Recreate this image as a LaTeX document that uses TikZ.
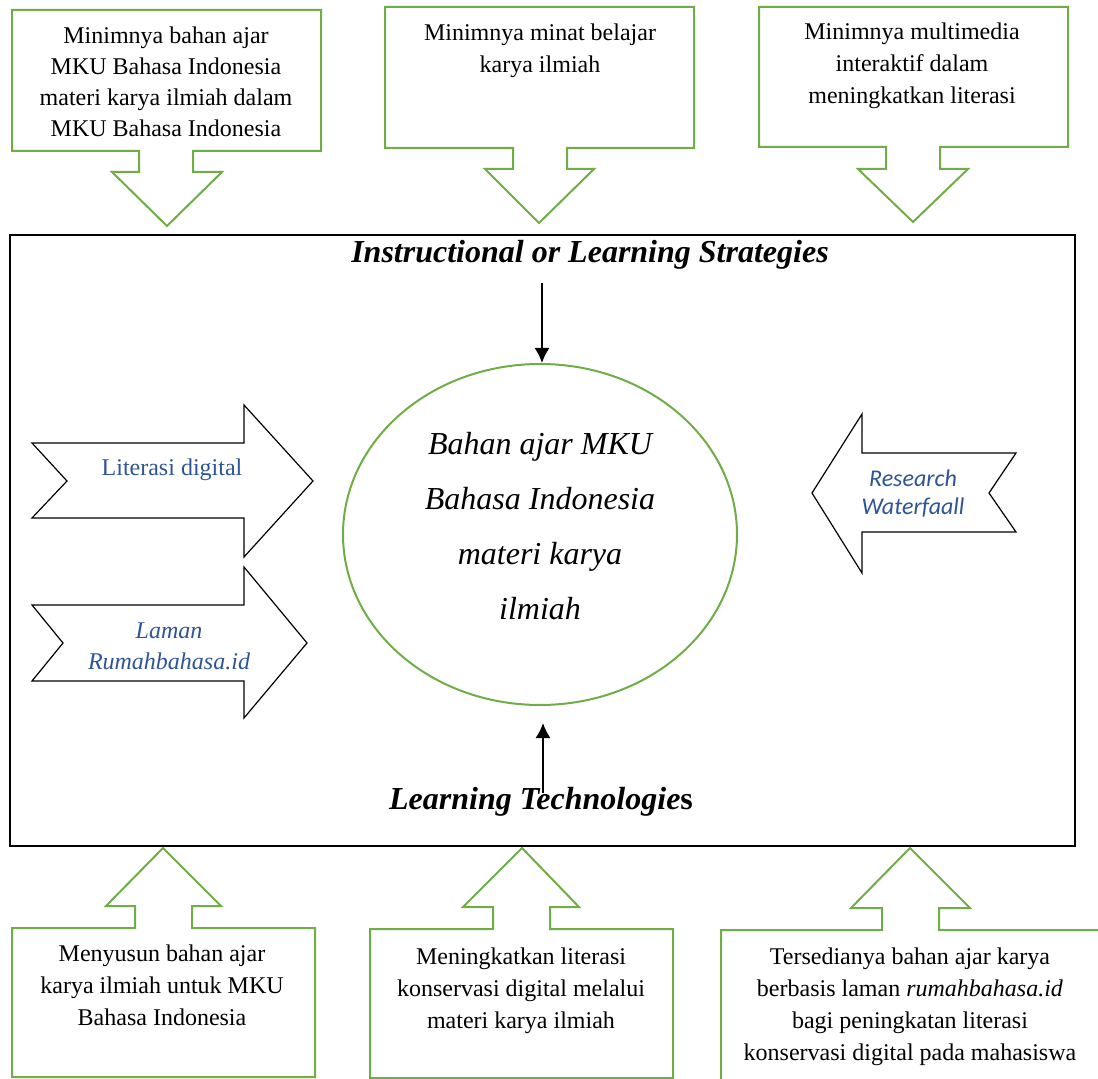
\documentclass[tikz,border=0pt]{standalone}
\usepackage{fontspec}
\setmainfont{Liberation Serif}
\newfontfamily\calibrifont{Carlito}
\usepackage{xcolor}
\usepackage{tikz}
\usetikzlibrary{arrows.meta,shapes.geometric}

\definecolor{leafgreen}{RGB}{112,173,71}
\definecolor{inkblue}{RGB}{47,84,150}

\begin{document}
\begin{tikzpicture}[x=0.5pt,y=-0.5pt,
    callout/.style={draw=leafgreen,line width=1pt,line join=miter},
    bigarrow/.style={draw=black,line width=0.6pt,fill=white},
    boxtext/.style={anchor=base,align=center,inner sep=0pt,font=\fontsize{12}{16}\selectfont},
    arrowtext/.style={anchor=base,align=center,inner sep=0pt,text=inkblue},
    vline/.style={line width=0.8pt,-{Latex[length=7.5pt,width=7.5pt]}}]
            \useasboundingbox (0,0) rectangle (1098,1079);
            % frame
            \draw[line width=1pt] (10,235) rectangle (1075,846);
            % top callouts
            \draw[callout] (12,10) -- (321,10) -- (321,151) -- (193,151) -- (193,172) -- (222,172) -- (167,226) -- (112,172) -- (139,172) -- (139,151) -- (12,151) -- cycle;
            \draw[callout] (385,7) -- (694,7) -- (694,148) -- (567,148) -- (567,169) -- (594,169) -- (539,223) -- (485,169) -- (513,169) -- (513,148) -- (385,148) -- cycle;
            \draw[callout] (759,7) -- (1068,7) -- (1068,147) -- (940,147) -- (940,169) -- (968,169) -- (913,222) -- (858,169) -- (886,169) -- (886,147) -- (759,147) -- cycle;
            \node[boxtext,font=\fontsize{12}{15.5}\selectfont] (kurang1) at (166,137) {Minimnya bahan ajar\\MKU Bahasa Indonesia\\materi karya ilmiah dalam\\MKU Bahasa Indonesia};
            \node[boxtext] (kurang2) at (540,73) {Minimnya minat belajar\\karya ilmiah};
            \node[boxtext] (kurang3) at (912,104) {Minimnya multimedia\\interaktif dalam\\meningkatkan literasi};
            % bottom callouts
            \draw[callout] (12,1077) -- (12,928) -- (135,928) -- (135,906) -- (106,906) -- (163,848) -- (221,906) -- (192,906) -- (192,928) -- (315,928) -- (315,1077) -- cycle;
            \draw[callout] (370,1078) -- (370,929) -- (493,929) -- (493,907) -- (463,907) -- (522,848) -- (579,907) -- (550,907) -- (550,929) -- (673,929) -- (673,1078) -- cycle;
            \draw[callout] (721,1085) -- (721,930) -- (882,930) -- (882,908) -- (851,908) -- (910,848) -- (970,908) -- (939,908) -- (939,930) -- (1105,930);
            \node[boxtext] (hasil1) at (162,1025) {Menyusun bahan ajar\\karya ilmiah untuk MKU\\Bahasa Indonesia};
            \node[boxtext] (hasil2) at (521,1028) {Meningkatkan literasi\\konservasi digital melalui\\materi karya ilmiah};
            \node[boxtext] (hasil3) at (910,1060) {Tersedianya bahan ajar karya\\berbasis laman \textit{rumahbahasa.id}\\bagi peningkatan literasi\\konservasi digital pada mahasiswa};
            % side arrows
            \draw[bigarrow] (32,443) -- (244,443) -- (244,405) -- (313,481) -- (244,557) -- (244,518) -- (32,518) -- (67,481) -- cycle;
            \draw[bigarrow] (32,605) -- (244,605) -- (244,567) -- (307,643) -- (244,718) -- (244,681) -- (32,681) -- (63,643) -- cycle;
            \draw[bigarrow] (812,493) -- (862,414) -- (862,453) -- (1016,453) -- (989,493) -- (1016,532) -- (862,532) -- (862,573) -- cycle;
            \node[arrowtext,font=\fontsize{12}{15.5}\selectfont] (literasi) at (172,476) {Literasi digital};
            \node[arrowtext,font=\fontsize{12}{15.5}\selectfont\itshape] (laman) at (169,669) {Laman\\Rumahbahasa.id};
            \node[arrowtext,font=\calibrifont\fontsize{12}{14}\selectfont\itshape] (waterfall) at (913,515) {Research\\Waterfaall};
            % centre
            \node[ellipse,draw=leafgreen,line width=1pt,minimum width=197pt,minimum height=170.5pt] (core) at (540,534.5) {};
            \node[anchor=base,align=center,inner sep=0pt,font=\fontsize{16}{27.5}\selectfont\itshape] (coretext) at (540,620) {Bahan ajar MKU\\Bahasa Indonesia\\materi karya\\ilmiah};
            \node[anchor=base,inner sep=0pt,font=\fontsize{16}{18}\selectfont\bfseries\itshape] (strategi) at (590,263) {Instructional or Learning Strategies};
            \node[anchor=base,inner sep=0pt,font=\fontsize{16}{18}\selectfont\bfseries] (teknologi) at (541,809) {\textit{Learning Technologie}s};
            \coordinate (atas) at (542,283);
            \coordinate (bawah) at (543,793);
            \draw[vline] (atas) -- (atas |- core.north);
            \draw[vline,shorten >=8.5pt] (bawah) -- (bawah |- core.south);
          \end{tikzpicture}
\end{document}
